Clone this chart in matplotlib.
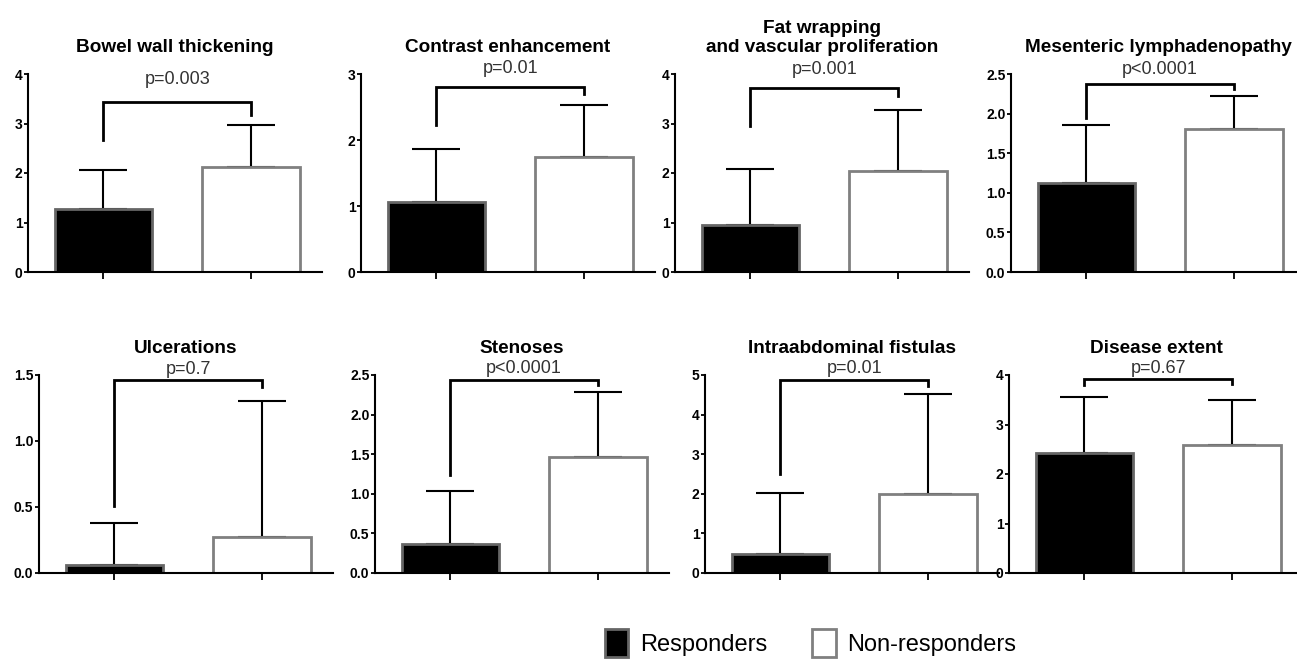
import matplotlib
matplotlib.use("Agg")
import matplotlib.pyplot as plt
from matplotlib.patches import Patch
from matplotlib.ticker import FormatStrFormatter

plt.rcParams['font.family'] = ['Liberation Sans', 'DejaVu Sans']

titles = ["Bowel wall thickening", "Contrast enhancement",
          "Fat wrapping\nand vascular proliferation", "Mesenteric lymphadenopathy",
          "Ulcerations", "Stenoses", "Intraabdominal fistulas", "Disease extent"]
groups = ["Responders", "Non-responders"]
resp_mean = [1.27, 1.06, 0.94, 1.12, 0.06, 0.36, 0.49, 2.43]
resp_sd = [0.79, 0.80, 1.14, 0.73, 0.32, 0.67, 1.54, 1.12]
nonresp_mean = [2.13, 1.74, 2.04, 1.80, 0.27, 1.46, 2.00, 2.58]
nonresp_sd = [0.83, 0.79, 1.23, 0.42, 1.03, 0.83, 2.52, 0.91]
ymax = [4, 3, 4, 2.5, 1.5, 2.5, 5, 4]
ystep = [1, 1, 1, 0.5, 0.5, 0.5, 1, 1]
yfmt = ["%d", "%d", "%d", "%.1f", "%.1f", "%.1f", "%d", "%d"]
p_labels = ["p=0.003", "p=0.01", "p=0.001", "p<0.0001",
            "p=0.7", "p<0.0001", "p=0.01", "p=0.67"]
bracket_left = [2.67, 2.22, 2.94, 1.95, 0.51, 1.24, 2.49, 3.80]
bracket_top = [3.44, 2.81, 3.72, 2.37, 1.46, 2.44, 4.87, 3.92]
bracket_right = [3.17, 2.70, 3.56, 2.31, 1.41, 2.37, 4.73, 3.82]
p_label_y = [3.72, 2.95, 3.92, 2.45, 1.48, 2.47, 4.95, 3.96]

W, H = 1297, 662
fig = plt.figure(figsize=(W / 100, H / 100), dpi=100)

lefts_px = [28, 361, 675, 1011, 39, 375, 705, 1009]
tops_px = [74, 74, 74, 74, 375, 375, 375, 375]
ax_w_px, ax_h_px = 294, 198

for i in range(8):
    l = lefts_px[i] / W
    b = 1 - (tops_px[i] + ax_h_px) / H
    ax = fig.add_axes([l, b, ax_w_px / W, ax_h_px / H])
    ax.bar([0], [resp_mean[i]], width=0.66, color='black', edgecolor='#666666',
           linewidth=2, zorder=2)
    ax.bar([1], [nonresp_mean[i]], width=0.66, color='white', edgecolor='#808080',
           linewidth=2, zorder=2)
    ax.errorbar([0, 1], [resp_mean[i], nonresp_mean[i]],
                yerr=[[0, 0], [resp_sd[i], nonresp_sd[i]]], fmt='none',
                ecolor='black', elinewidth=1.5, capsize=17, capthick=1.5, zorder=1)
    ax.plot([0, 0, 1, 1], [bracket_left[i], bracket_top[i], bracket_top[i], bracket_right[i]],
            color='black', lw=2, solid_joinstyle='miter', clip_on=False, zorder=3)
    ax.text(0.5, p_label_y[i], p_labels[i], ha='center', va='bottom', fontsize=13,
            color='#333333', clip_on=False)
    ax.set_xlim(-0.51, 1.48)
    ax.set_ylim(0, ymax[i])
    n = int(round(ymax[i] / ystep[i]))
    ax.set_yticks([k * ystep[i] for k in range(n + 1)])
    ax.yaxis.set_major_formatter(FormatStrFormatter(yfmt[i]))
    ax.set_xticks([0, 1])
    ax.set_xticklabels([])
    for s in ['top', 'right']:
        ax.spines[s].set_visible(False)
    for s in ['left', 'bottom']:
        ax.spines[s].set_linewidth(1.5)
    ax.tick_params(axis='y', length=3, width=1.3, labelsize=10, pad=1)
    ax.tick_params(axis='x', length=5, width=1.3)
    for lab in ax.get_yticklabels():
        lab.set_fontweight('bold')
    ax.set_title(titles[i], fontsize=13.7, fontweight='bold', pad=16, linespacing=1.1)

handles = [Patch(facecolor='black', edgecolor='#666666', linewidth=2),
           Patch(facecolor='white', edgecolor='#808080', linewidth=2)]
fig.legend(handles, groups, loc='center', bbox_to_anchor=(0.625, 0.028), ncol=2,
           frameon=False, fontsize=17, handlelength=1.0, handleheight=1.45,
           handletextpad=0.5, columnspacing=1.9, borderpad=0.0)

fig.savefig("out.png", dpi=100)
